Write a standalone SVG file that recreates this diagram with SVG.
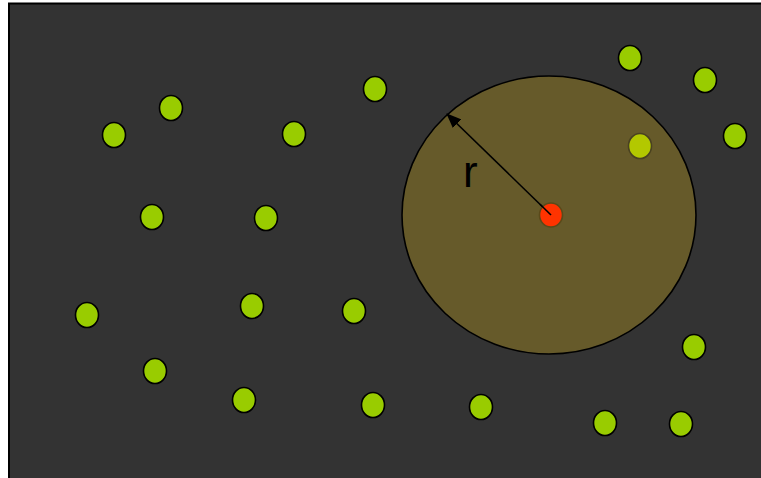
<svg xmlns="http://www.w3.org/2000/svg" width="761" height="478" viewBox="0 0 761 478">
<defs>
<style>
.pt{fill:#99cc00;stroke:#000;stroke-width:1.6}
.pin{fill:#b3c800;stroke:#4a4220;stroke-width:1.6}
</style>
<marker id="ah" markerWidth="15" markerHeight="12" refX="14" refY="6" orient="auto" markerUnits="userSpaceOnUse" viewBox="0 0 15 12">
<path d="M0,0 L15,6 L0,12 z" fill="#000"/>
</marker>
</defs>
<rect id="bg" x="9" y="3.5" width="760" height="480" fill="#333333" stroke="#000" stroke-width="2"/>
<g id="range">
<ellipse cx="549" cy="215" rx="147" ry="139" fill="#665a2a" stroke="#000" stroke-width="1.6"/>
</g>
<g id="points">
<ellipse id="p1" class="pt" cx="114" cy="135" rx="11.5" ry="12.5"/>
<ellipse id="p2" class="pt" cx="171" cy="108" rx="11.5" ry="12.5"/>
<ellipse id="p3" class="pt" cx="375" cy="89" rx="11.5" ry="12.5"/>
<ellipse id="p4" class="pt" cx="294" cy="134" rx="11.5" ry="12.5"/>
<ellipse id="p5" class="pt" cx="152" cy="217" rx="11.5" ry="12.5"/>
<ellipse id="p6" class="pt" cx="266" cy="218" rx="11.5" ry="12.5"/>
<ellipse id="p7" class="pt" cx="87" cy="315" rx="11.5" ry="12.5"/>
<ellipse id="p8" class="pt" cx="252" cy="306" rx="11.5" ry="12.5"/>
<ellipse id="p9" class="pt" cx="354" cy="311" rx="11.5" ry="12.5"/>
<ellipse id="p10" class="pt" cx="155" cy="371" rx="11.5" ry="12.5"/>
<ellipse id="p11" class="pt" cx="244" cy="400" rx="11.5" ry="12.5"/>
<ellipse id="p12" class="pt" cx="373" cy="405" rx="11.5" ry="12.5"/>
<ellipse id="p13" class="pt" cx="481" cy="407" rx="11.5" ry="12.5"/>
<ellipse id="p14" class="pt" cx="605" cy="423" rx="11.5" ry="12.5"/>
<ellipse id="p15" class="pt" cx="681" cy="424" rx="11.5" ry="12.5"/>
<ellipse id="p16" class="pt" cx="694" cy="347" rx="11.5" ry="12.5"/>
<ellipse id="p17" class="pt" cx="630" cy="58" rx="11.5" ry="12.5"/>
<ellipse id="p18" class="pt" cx="705" cy="80" rx="11.5" ry="12.5"/>
<ellipse id="p19" class="pt" cx="735" cy="136" rx="11.5" ry="12.5"/>
<ellipse id="p20" class="pin" cx="640" cy="146" rx="11.5" ry="12.5"/>
</g>
<g id="connectors">
<line x1="551" y1="215" x2="447" y2="114" stroke="#000" stroke-width="1.6" marker-end="url(#ah)"/>
</g>
<g id="center">
<ellipse cx="551" cy="215" rx="11.5" ry="12" fill="#ff3300" stroke="#5a4a1a" stroke-width="1.6"/>
<line x1="551" y1="215" x2="540" y2="204.3" stroke="#000" stroke-width="1.6"/>
</g>
<text x="463" y="187" font-family="Liberation Sans, Arial, sans-serif" font-size="44" fill="#000">r</text>
</svg>
